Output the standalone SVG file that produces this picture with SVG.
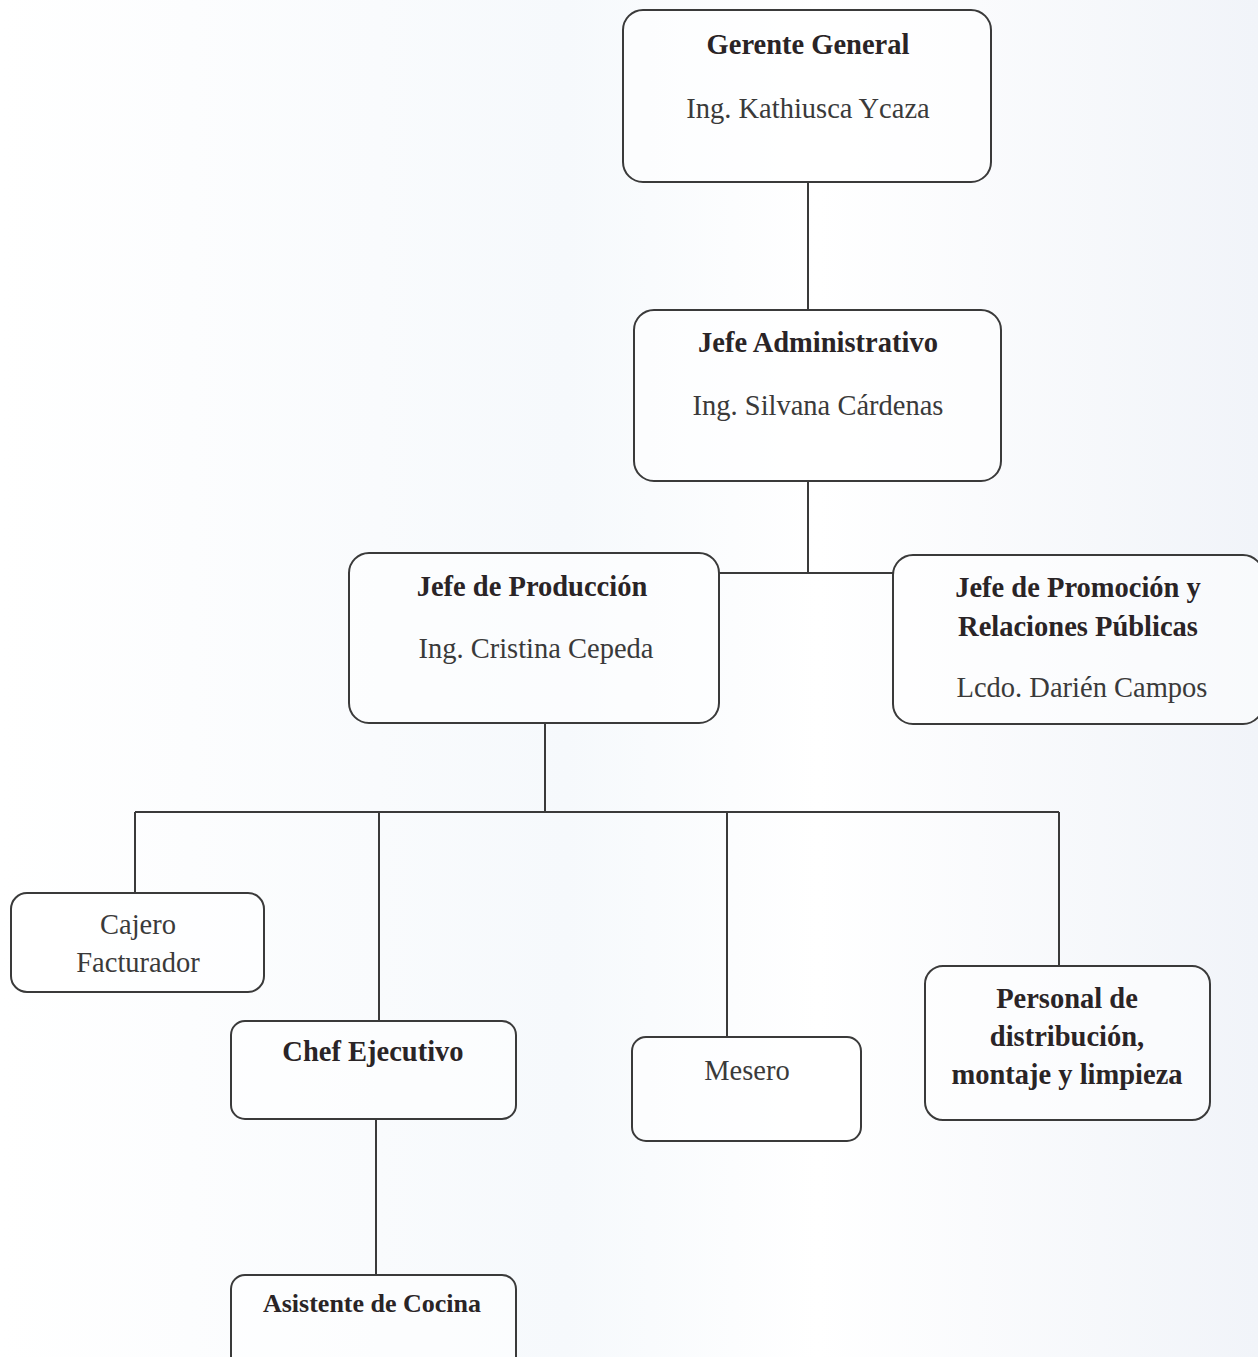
<svg xmlns="http://www.w3.org/2000/svg" width="1258" height="1357" viewBox="0 0 1258 1357">
<style>
.box{fill:#ffffff;fill-opacity:0.5;stroke:#3a3a3a;stroke-width:2}
.ln{stroke:#3a3a3a;stroke-width:2;fill:none}
text{font-family:"Liberation Serif","Times New Roman",serif;text-anchor:middle;fill:#2a2426}
.t{font-weight:bold;font-size:28.5px}
.s{font-size:28.5px;fill:#3a3a3a}
</style>
<defs>
<linearGradient id="bg" x1="0" y1="0" x2="1" y2="0">
<stop offset="0" stop-color="#ffffff"/>
<stop offset="0.45" stop-color="#f6f9fc"/>
<stop offset="0.65" stop-color="#ffffff"/>
<stop offset="1" stop-color="#f1f4f9"/>
</linearGradient>
</defs>
<rect x="0" y="0" width="1258" height="1357" fill="url(#bg)"/>
<g id="connectors">
<path class="ln" d="M808 182V310"/>
<path class="ln" d="M808 481V573M718 573H893"/>
<path class="ln" d="M545 723V812M135 812H1059"/>
<path class="ln" d="M135 812V893M379 812V1021M727 812V1037M1059 812V966"/>
<path class="ln" d="M376 1119V1275"/>
</g>
<g id="gerente">
<rect class="box" x="623" y="10" width="368" height="172" rx="20"/>
<text class="t" x="808" y="54">Gerente General</text>
<text class="s" x="808" y="118">Ing. Kathiusca Ycaza</text>
</g>
<g id="jefe-admin">
<rect class="box" x="634" y="310" width="367" height="171" rx="20"/>
<text class="t" x="818" y="352">Jefe Administrativo</text>
<text class="s" x="818" y="415">Ing. Silvana Cárdenas</text>
</g>
<g id="jefe-produccion">
<rect class="box" x="349" y="553" width="370" height="170" rx="20"/>
<text class="t" x="532" y="596">Jefe de Producción</text>
<text class="s" x="536" y="658">Ing. Cristina Cepeda</text>
</g>
<g id="jefe-promocion">
<rect class="box" x="893" y="555" width="370" height="169" rx="20"/>
<text class="t" x="1078" y="597">Jefe de Promoción  y</text>
<text class="t" x="1078" y="636">Relaciones Públicas</text>
<text class="s" x="1082" y="697">Lcdo. Darién Campos</text>
</g>
<g id="cajero">
<rect class="box" x="11" y="893" width="253" height="99" rx="16"/>
<text class="s" x="138" y="934">Cajero</text>
<text class="s" x="138" y="972">Facturador</text>
</g>
<g id="chef">
<rect class="box" x="231" y="1021" width="285" height="98" rx="14"/>
<text class="t" x="373" y="1061">Chef Ejecutivo</text>
</g>
<g id="mesero">
<rect class="box" x="632" y="1037" width="229" height="104" rx="14"/>
<text class="s" x="747" y="1080">Mesero</text>
</g>
<g id="personal">
<rect class="box" x="925" y="966" width="285" height="154" rx="18"/>
<text class="t" x="1067" y="1008">Personal de</text>
<text class="t" x="1067" y="1046">distribución,</text>
<text class="t" x="1067" y="1084">montaje y limpieza</text>
</g>
<g id="asistente">
<rect class="box" x="231" y="1275" width="285" height="100" rx="14"/>
<text class="t" x="372" y="1312" style="font-size:26px">Asistente de Cocina</text>
</g>
</svg>
